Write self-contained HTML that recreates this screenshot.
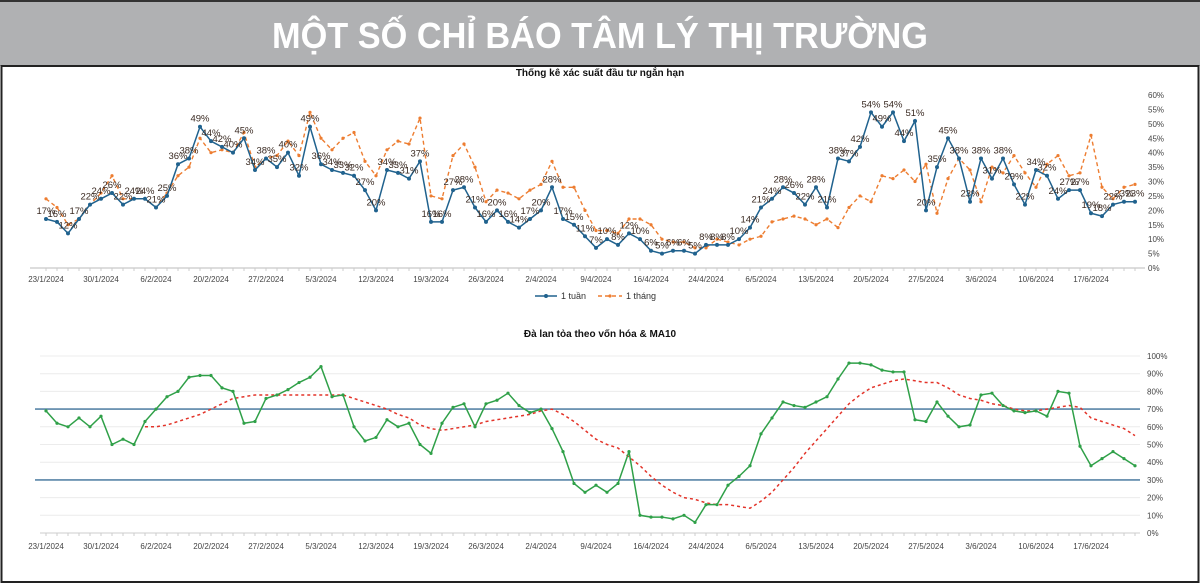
<!DOCTYPE html>
<html><head><meta charset="utf-8">
<style>
html,body{margin:0;padding:0;background:#fff;}
svg{display:block;font-family:"Liberation Sans","Noto Sans CJK SC",sans-serif;}
</style></head>
<body>
<svg id="chart" width="1200" height="585" viewBox="0 0 1200 585">
  <rect x="0" y="0" width="1200" height="585" fill="#fff"/>
  <rect x="0" y="0" width="1200" height="2" fill="#333"/>
  <rect x="0" y="2" width="1200" height="64" fill="#b0b1b3"/>
  <text x="600" y="48" text-anchor="middle" font-size="36" font-weight="bold" fill="#fff" textLength="656" lengthAdjust="spacingAndGlyphs">MỘT SỐ CHỈ BÁO TÂM LÝ THỊ TRƯỜNG</text>
  <rect x="1.5" y="66" width="1197" height="516" fill="none" stroke="#222" stroke-width="2"/>
  <text x="600" y="76" text-anchor="middle" font-size="10" font-weight="bold" fill="#111">Thống kê xác suất đầu tư ngắn hạn</text>
  <text x="600" y="337" text-anchor="middle" font-size="10" font-weight="bold" fill="#111">Đà lan tỏa theo vốn hóa &amp; MA10</text>
  <g id="topChart"></g>
  <g id="botChart"></g>
</svg>
<script>
const dateLabels = ["23/1/2024","30/1/2024","6/2/2024","20/2/2024","27/2/2024","5/3/2024","12/3/2024","19/3/2024","26/3/2024","2/4/2024","9/4/2024","16/4/2024","24/4/2024","6/5/2024","13/5/2024","20/5/2024","27/5/2024","3/6/2024","10/6/2024","17/6/2024"];
const week1 = [17,16,12,17,22,24,26,22,24,24,21,25,36,38,49,44,42,40,45,34,38,35,40,32,49,36,34,33,32,27,20,34,33,31,37,16,16,27,28,21,16,20,16,14,17,20,28,17,15,11,7,10,8,12,10,6,5,6,6,5,8,8,8,10,14,21,24,28,26,22,28,21,38,37,42,54,49,54,44,51,20,35,45,38,23,38,31,38,29,22,34,32,24,27,27,19,18,22,23,23];
const month1 = [24,21,15,17,22,26,32,24,24,24,21,26,32,35,45,40,41,40,47,35,38,39,44,39,54,45,41,45,47,37,32,41,44,43,52,25,24,39,43,35,23,27,26,24,27,29,37,28,28,20,13,13,12,17,17,15,10,9,9,7,7,10,9,8,10,11,16,17,18,17,15,17,14,21,25,23,32,31,34,30,36,19,31,38,34,23,35,33,39,33,28,36,39,32,33,46,28,24,28,29];
const breadth = [69,62,60,65,60,66,50,53,50,63,70,77,80,88,89,89,82,80,62,63,76,78,81,85,88,94,77,78,60,52,54,64,60,62,50,45,62,71,73,60,73,75,79,72,68,70,59,46,28,23,27,23,28,46,10,9,9,8,10,6,16,16,27,32,38,56,65,74,72,71,74,77,87,96,96,95,92,91,91,64,63,74,66,60,61,78,79,72,69,68,69,66,80,79,49,38,42,46,42,38];
const ma10 = [null,null,null,null,null,null,null,null,null,60,60,61,63,65,67,70,73,76,77,78,78,78,78,78,78,78,78,78,76,74,72,70,67,65,61,59,58,59,60,61,63,64,65,66,67,69,70,67,63,58,53,50,48,43,38,32,27,23,20,19,17,16,16,15,14,18,23,30,37,45,52,59,66,73,78,82,84,86,87,86,85,85,82,78,76,75,73,72,70,69,69,70,71,72,71,65,63,61,59,55];
const topTicks = [0,5,10,15,20,25,30,35,40,45,50,55,60];
const botTicks = [0,10,20,30,40,50,60,70,80,90,100];
const bands = [70,30];

const NS="http://www.w3.org/2000/svg";
function mk(tag,attrs,parent){const e=document.createElementNS(NS,tag);for(const k in attrs)e.setAttribute(k,attrs[k]);parent.appendChild(e);return e;}
const xPos = i => 46 + i*11;
const yTop = v => 268 - v*2.883;
const yBot = v => 533 - v*1.77;
const topG = document.getElementById('topChart');
const botG = document.getElementById('botChart');

let ax = mk('line',{x1:30,x2:1145,y1:268,y2:268,stroke:'#bbb','stroke-width':1},topG);


topTicks.forEach(t=>{
  const tl=mk('text',{x:1148,y:yTop(t)+3,'font-size':8,fill:'#444'},topG);
  tl.textContent=t+'%';
  
  
});
for(let i=0;i<week1.length;i++){
  const tk=mk('line',{x1:xPos(i),x2:xPos(i),y1:268,y2:271,stroke:'#ccc'},topG);
  
  
}
dateLabels.forEach((d,k)=>{
  const tl=mk('text',{x:xPos(k*5),y:282,'font-size':8,fill:'#444','text-anchor':'middle'},topG);
  tl.textContent=d;
  
  
});
let mp = month1.map((v,i)=>xPos(i)+','+yTop(v)).join(' ');
let ml = mk('polyline',{points:mp,fill:'none',stroke:'#ed7d31','stroke-width':1.4,'stroke-dasharray':'4,3'},topG);


month1.forEach((v,i)=>{
  const c=mk('circle',{cx:xPos(i),cy:yTop(v),r:1.6,fill:'#ed7d31'},topG);
  
  
});
let wp = week1.map((v,i)=>xPos(i)+','+yTop(v)).join(' ');
let wl = mk('polyline',{points:wp,fill:'none',stroke:'#20628e','stroke-width':1.5},topG);


week1.forEach((v,i)=>{
  const c=mk('circle',{cx:xPos(i),cy:yTop(v),r:2,fill:'#20628e'},topG);
  
  
  const t=mk('text',{x:xPos(i),y:yTop(v)-5,'font-size':9.5,fill:'#3a2a22','text-anchor':'middle'},topG);
  t.textContent=v+'%';
  
  
});
let lg = mk('g',{},topG);


mk('line',{x1:535,x2:557,y1:296,y2:296,stroke:'#20628e','stroke-width':1.5},lg);
mk('circle',{cx:546,cy:296,r:2,fill:'#20628e'},lg);
let l1=mk('text',{x:561,y:299,'font-size':9,fill:'#333'},lg);l1.textContent='1 tuần';


mk('line',{x1:598,x2:622,y1:296,y2:296,stroke:'#ed7d31','stroke-width':1.4,'stroke-dasharray':'4,3'},lg);
mk('circle',{cx:610,cy:296,r:1.6,fill:'#ed7d31'},lg);
let l2=mk('text',{x:626,y:299,'font-size':9,fill:'#333'},lg);l2.textContent='1 tháng';



botTicks.forEach(t=>{
  const g=mk('line',{x1:40,x2:1140,y1:yBot(t),y2:yBot(t),stroke:t===0?'#ccc':'#ececec','stroke-width':1},botG);
  
  
  const tl=mk('text',{x:1147,y:yBot(t)+3,'font-size':8,fill:'#444'},botG);
  tl.textContent=t+'%';
  
  
});
for(let i=0;i<breadth.length;i++){
  const tk=mk('line',{x1:xPos(i),x2:xPos(i),y1:533,y2:536,stroke:'#ccc'},botG);
  
  
}
dateLabels.forEach((d,k)=>{
  const tl=mk('text',{x:xPos(k*5),y:549,'font-size':8,fill:'#444','text-anchor':'middle'},botG);
  tl.textContent=d;
  
  
});
bands.forEach(b=>{
  const l=mk('line',{x1:35,x2:1140,y1:yBot(b),y2:yBot(b),stroke:'#5a86a8','stroke-width':1.6},botG);
  
  
});
let maPts = ma10.map((v,i)=>v===null?null:xPos(i)+','+yBot(v)).filter(p=>p).join(' ');
let mal = mk('polyline',{points:maPts,fill:'none',stroke:'#e3342a','stroke-width':1.5,'stroke-dasharray':'3,3'},botG);


let bp = breadth.map((v,i)=>xPos(i)+','+yBot(v)).join(' ');
let bl = mk('polyline',{points:bp,fill:'none',stroke:'#2fa048','stroke-width':1.5},botG);


breadth.forEach((v,i)=>{
  const c=mk('circle',{cx:xPos(i),cy:yBot(v),r:1.6,fill:'#2fa048'},botG);
  
  
});
</script>
</body></html>
